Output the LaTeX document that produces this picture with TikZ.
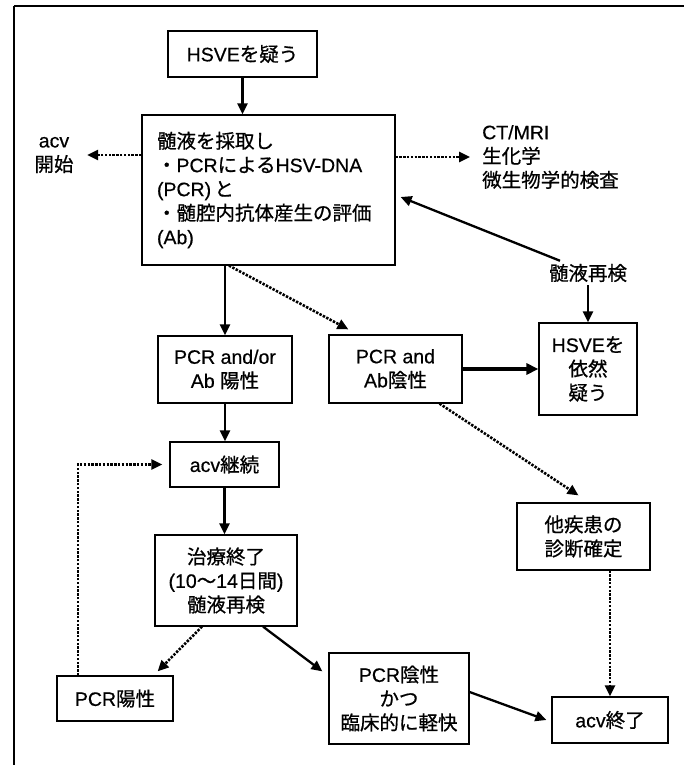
\documentclass[tikz,border=0pt]{standalone}
\usepackage{fontspec}
\setmainfont[FakeBold=0.5,AutoFakeBold=0.5]{Liberation Sans}
\newfontfamily\jp[FakeBold=0.8,AutoFakeBold=0.8]{Noto Sans CJK JP}
\usetikzlibrary{arrows.meta}

\newcommand\lblfont{\fontsize{19.5}{24}\selectfont}

\tikzset{
  every node/.style={font=\lblfont},
  box/.style={draw, line width=1.2pt, inner sep=0pt, align=center},
  solidarrow/.style={line width=2.3pt, -{Triangle[length=11pt,width=10pt]}},
  thickarrow/.style={line width=3.4pt, -{Triangle[length=12pt,width=11pt]}},
  dotarrow/.style={line width=2.6pt, dash pattern=on 2.4pt off 1.4pt,
    -{Triangle[length=11pt,width=10pt]}},
}

\begin{document}
\begin{tikzpicture}[x=1pt,y=-1pt]
\useasboundingbox (0,0) rectangle (684,765);

% outer frame: top and left edges only
\draw[line width=1.8pt] (14,6) -- (684,6);
\draw[line width=1.2pt] (14,6) -- (14,765);

% boxes and labels
\node[box, minimum width=149pt, minimum height=46pt] (hsve) at (242.5,54) {HSVE{\jp を疑う}};
\node[box, minimum height=150pt, text width=223pt, inner xsep=15pt, align=left] (csf) at (268.5,190)
  {{\jp 髄液を採取し}\\{\jp ・}PCR{\jp による}HSV-DNA\\(PCR)\,{\jp と}\\{\jp ・髄腔内抗体産生の評価}\\(Ab)};
\node[inner xsep=13.5pt, inner ysep=2pt, align=center] (acv) at (54,155) {acv\\{\jp 開始}};
\node[anchor=west, inner xsep=12pt, align=left] (tests) at (470,157)
  {CT/MRI\\{\jp 生化学}\\{\jp 微生物学的検査}};
\node[inner sep=3pt] (recheck) at (588,273) {{\jp 髄液再検}};
\node[box, minimum width=98pt, minimum height=92pt] (still) at (588,369) {HSVE{\jp を}\\{\jp 依然}\\{\jp 疑う}};
\node[box, minimum width=134pt, minimum height=67pt] (pos) at (225,369.5) {PCR and/or\\Ab {\jp 陽性}};
\node[box, minimum width=133pt, minimum height=68pt] (neg) at (395.5,369) {PCR and\\Ab{\jp 陰性}};
\node[box, minimum width=109pt, minimum height=45pt] (cont) at (224.5,464.5) {acv{\jp 継続}};
\node[box, minimum width=133pt, minimum height=67pt] (other) at (583.5,536.5) {{\jp 他疾患の}\\{\jp 診断確定}};
\node[box, minimum width=142pt, minimum height=91pt] (fin) at (226,580.5)
  {{\jp 治療終了}\\(10{\jp 〜}14{\jp 日間})\\{\jp 髄液再検}};
\node[box, minimum width=116pt, minimum height=45pt] (pcrpos) at (115,698.5) {PCR{\jp 陽性}};
\node[box, minimum width=140pt, minimum height=91pt] (pcrneg) at (399,698.5)
  {PCR{\jp 陰性}\\{\jp かつ}\\{\jp 臨床的に軽快}};
\node[box, minimum width=116pt, minimum height=46pt] (stop) at (610,720) {acv{\jp 終了}};

% connectors
\draw[solidarrow] (hsve.south) -- (hsve.south |- csf.north);
\draw[dotarrow] (csf.west |- acv.east) -- (acv.east);
\draw[dotarrow] (csf.east |- tests.west) -- (tests.west);
\draw[solidarrow] ([xshift=-28pt]recheck.north) -- ([xshift=5pt,yshift=-7pt]csf.east);
\draw[solidarrow] (recheck.south) -- (still.north);
\draw[solidarrow] (pos.north |- csf.south) -- (pos.north);
\draw[dotarrow] ([xshift=4pt]pos.north |- csf.south) -- ([xshift=20pt,yshift=5pt]neg.north west);
\draw[thickarrow] (neg.east) -- (still.west);
\draw[solidarrow] (pos.south) -- (pos.south |- cont.north);
\draw[dotarrow] ([xshift=44pt]neg.south) -- ([xshift=-5pt,yshift=7pt]other.north);
\draw[solidarrow] (cont.south) -- (cont.south |- fin.north);
\draw[dotarrow] ([xshift=-37pt]pcrpos.north) |- ([xshift=-7pt]cont.west);
\draw[dotarrow] ([xshift=-24pt]fin.south) -- ([xshift=-16pt,yshift=4pt]pcrpos.north east);
\draw[solidarrow] ([xshift=37pt]fin.south) -- ([xshift=-6pt,yshift=-19pt]pcrneg.north west);
\draw[solidarrow] ([yshift=6.5pt]pcrneg.east) -- ([xshift=-5pt]stop.west);
\draw[dotarrow] (stop.north |- other.south) -- (stop.north);
\end{tikzpicture}
\end{document}
